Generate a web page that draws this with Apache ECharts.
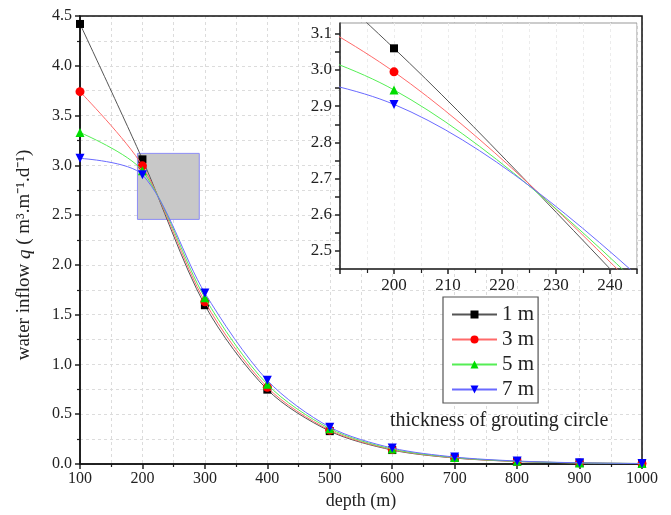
<!DOCTYPE html>
<html>
<head>
<meta charset="utf-8">
<script src="https://cdn.jsdelivr.net/npm/echarts@6/dist/echarts.min.js"></script>
<style>html,body{margin:0;padding:0;background:#fff}#c{width:671px;height:515px}</style>
</head>
<body>
<div id="c"></div>
<script>
// ---- data ----
var depths = [100, 200, 300, 400, 500, 600, 700, 800, 900, 1000];
var q1m = [4.42, 3.06, 1.595, 0.747, 0.33, 0.14, 0.06, 0.025, 0.010, 0.004];
var q3m = [3.74, 2.995, 1.63, 0.77, 0.34, 0.145, 0.062, 0.026, 0.011, 0.004];
var q5m = [3.33, 2.945, 1.67, 0.80, 0.355, 0.15, 0.065, 0.027, 0.011, 0.005];
var q7m = [3.07, 2.905, 1.717, 0.84, 0.37, 0.16, 0.07, 0.030, 0.012, 0.005];
var seriesNames = ['1 m', '3 m', '5 m', '7 m'];
var zoomBox = [[192, 3.12], [291, 2.457]];
var legendTitle = 'thickness of grouting circle';

var FONT = 'Liberation Serif';
var colors = ['#000000', '#ff0000', '#00dd00', '#0000ff'];
var lineColors = ['#555555', '#ff6a6a', '#55ee55', '#6a6aff'];
var symbols = ['rect', 'circle', 'triangle', 'triangle'];
var rots = [0, 0, 0, 180];
var sizes = [8, 9, 9, 9];
var allQ = [q1m, q3m, q5m, q7m];
var SMOOTH = 0.3;

function pts(q) { return depths.map(function (d, i) { return [d, q[i]]; }); }

var series = [];
// zoom-window rectangle, drawn beneath the curves
series.push({
  name: 'zoomBox', type: 'line', data: [], xAxisIndex: 0, yAxisIndex: 0, z: 1,
  markArea: {
    silent: true,
    itemStyle: { color: '#c8c8c8', borderColor: '#8c8cf5', borderWidth: 1, opacity: 1 },
    data: [[{ coord: zoomBox[0] }, { coord: zoomBox[1] }]]
  }
});
allQ.forEach(function (q, k) {
  series.push({
    name: seriesNames[k], type: 'line', data: pts(q), smooth: SMOOTH,
    xAxisIndex: 0, yAxisIndex: 0,
    symbol: symbols[k], symbolRotate: rots[k], symbolSize: sizes[k],
    itemStyle: { color: colors[k] },
    lineStyle: { color: lineColors[k], width: 1 },
    z: 3 + k
  });
});
allQ.forEach(function (q, k) {
  series.push({
    name: seriesNames[k], type: 'line', data: pts(q), smooth: SMOOTH,
    xAxisIndex: 1, yAxisIndex: 1, clip: true,
    symbol: symbols[k], symbolRotate: rots[k], symbolSize: sizes[k],
    itemStyle: { color: colors[k] },
    lineStyle: { color: lineColors[k], width: 1 },
    z: 20 + k
  });
});

var labelStyle = { fontFamily: FONT, fontSize: 16, color: '#222' };
var insetLabelStyle = { fontFamily: FONT, fontSize: 17, color: '#222' };

var option = {
  animation: false,
  backgroundColor: '#fff',
  grid: [
    { left: 80, right: 29, top: 16, bottom: 51, show: true, borderColor: '#111', borderWidth: 1.5, backgroundColor: 'transparent', z: 2 },
    { left: 340, top: 23, width: 297, height: 246, show: true, borderColor: '#999', borderWidth: 1, backgroundColor: '#fff', z: 10 }
  ],
  xAxis: [
    {
      type: 'value', gridIndex: 0, min: 100, max: 1000, interval: 100,
      name: 'depth (m)', nameLocation: 'middle', nameGap: 27,
      nameTextStyle: { fontFamily: FONT, fontSize: 18, color: '#222' },
      axisLine: { onZero: false, lineStyle: { color: '#222', width: 1.5 } },
      axisTick: { inside: false, length: 5, lineStyle: { color: '#222', width: 1.5 } },
      minorTick: { show: true, splitNumber: 2, length: 3, lineStyle: { color: '#222', width: 1.2 } },
      splitLine: { show: true, lineStyle: { color: '#dcdcdc', type: [3, 3], width: 1 } },
      minorSplitLine: { show: true, lineStyle: { color: '#dcdcdc', type: [3, 3], width: 1 } },
      axisLabel: Object.assign({ margin: 7, formatter: function (v) { return String(v); } }, labelStyle)
    },
    {
      type: 'value', gridIndex: 1, min: 190, max: 245, interval: 10,
      axisLine: { onZero: false, lineStyle: { color: '#222', width: 1.5 } },
      axisTick: { inside: false, length: 5, lineStyle: { color: '#222', width: 1.5 } },
      minorTick: { show: true, splitNumber: 2, length: 4, lineStyle: { color: '#222', width: 1.2 } },
      splitLine: { show: true, lineStyle: { color: '#ececec', type: [3, 3], width: 1 } },
      minorSplitLine: { show: true, lineStyle: { color: '#ececec', type: [3, 3], width: 1 } },
      axisLabel: Object.assign({ margin: 8, showMinLabel: false, showMaxLabel: false }, insetLabelStyle),
      z: 12
    }
  ],
  yAxis: [
    {
      type: 'value', gridIndex: 0, min: 0, max: 4.5, interval: 0.5,
      name: '{a|water inflow }{q|q}{a| ( m³.m⁻¹.d⁻¹)}', nameLocation: 'middle', nameGap: 46,
      nameTextStyle: {
        fontFamily: FONT, fontSize: 19, color: '#222', padding: [0, 30, 0, 0],
        rich: {
          a: { fontFamily: FONT, fontSize: 19, color: '#222' },
          q: { fontFamily: FONT, fontSize: 19, color: '#222', fontStyle: 'italic' }
        }
      },
      axisLine: { onZero: false, lineStyle: { color: '#222', width: 1.5 } },
      axisTick: { inside: false, length: 5, lineStyle: { color: '#222', width: 1.5 } },
      minorTick: { show: true, splitNumber: 2, length: 3, lineStyle: { color: '#222', width: 1.2 } },
      splitLine: { show: true, lineStyle: { color: '#dcdcdc', type: [3, 3], width: 1 } },
      minorSplitLine: { show: true, lineStyle: { color: '#dcdcdc', type: [3, 3], width: 1 } },
      axisLabel: Object.assign({ margin: 8, formatter: function (v) { return v.toFixed(1); } }, labelStyle)
    },
    {
      type: 'value', gridIndex: 1, min: 2.45, max: 3.13, interval: 0.05,
      axisLine: { onZero: false, lineStyle: { color: '#222', width: 1.5 } },
      axisTick: { inside: false, length: 5, lineStyle: { color: '#222', width: 1.5 } },
      splitLine: { show: false },
      axisLabel: Object.assign({
        margin: 8, showMaxLabel: false,
        formatter: function (v) {
          var r = Math.round(v * 100);
          return (r % 10 === 0) ? (r / 100).toFixed(1) : '';
        }
      }, insetLabelStyle),
      z: 12
    }
  ],
  legend: {
    data: seriesNames,
    orient: 'vertical', left: 443, top: 297,
    backgroundColor: '#fff', borderColor: '#555', borderWidth: 1.2,
    padding: [7, 4, 3, 8], itemGap: 4, itemWidth: 45, itemHeight: 10,
    textStyle: { fontFamily: FONT, fontSize: 21, color: '#222' },
    z: 30
  },
  graphic: [
    {
      type: 'text', left: 390, top: 411, z: 30,
      style: { text: legendTitle, font: '20px "Liberation Serif"', fill: '#222' }
    }
  ],
  series: series
};

var chart = echarts.init(document.getElementById('c'), null, { renderer: 'canvas' });
chart.setOption(option);
</script>
</body>
</html>
